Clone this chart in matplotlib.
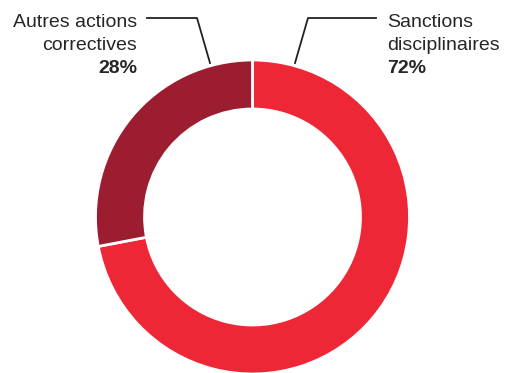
import matplotlib
matplotlib.use("Agg")
import matplotlib.pyplot as plt

labels = [["Sanctions", "disciplinaires"], ["Autres actions", "correctives"]]
values = [72, 28]
pct_labels = ["72%", "28%"]
colors = ["#EE2737", "#9B1D2F"]

W, H = 505, 373
fig = plt.figure(figsize=(W / 100, H / 100), dpi=100)
ax = fig.add_axes([0, 0, 1, 1])

cx, cy, R, r = 252.5, H - 217, 157, 108
ax.pie(values, colors=colors, startangle=90, counterclock=False,
       center=(cx, cy), radius=R, frame=True,
       wedgeprops=dict(width=R - r, edgecolor="white", linewidth=2))
ax.set_xlim(0, W)
ax.set_ylim(0, H)
ax.set_aspect("equal")
ax.axis("off")

font = "Liberation Sans"
fs = 14
tc = "#262626"
baselines = [27, 50, 73]

# right label (Sanctions disciplinaires)
for line, b in zip(labels[0], baselines):
    ax.text(387, H - b, line, ha="left", va="baseline", fontsize=fs,
            family=font, color=tc)
ax.text(387, H - baselines[2], pct_labels[0], ha="left", va="baseline",
        fontsize=fs, family=font, fontweight="bold", color=tc)
ax.plot([376, 308, 295], [H - 18, H - 18, H - 63], color="#222222", lw=1.3)

# left label (Autres actions correctives)
for line, b in zip(labels[1], baselines):
    ax.text(137, H - b, line, ha="right", va="baseline", fontsize=fs,
            family=font, color=tc)
ax.text(137, H - baselines[2], pct_labels[1], ha="right", va="baseline",
        fontsize=fs, family=font, fontweight="bold", color=tc)
ax.plot([147, 197, 210], [H - 18, H - 18, H - 63], color="#222222", lw=1.3)

fig.savefig("out.png", dpi=100)
